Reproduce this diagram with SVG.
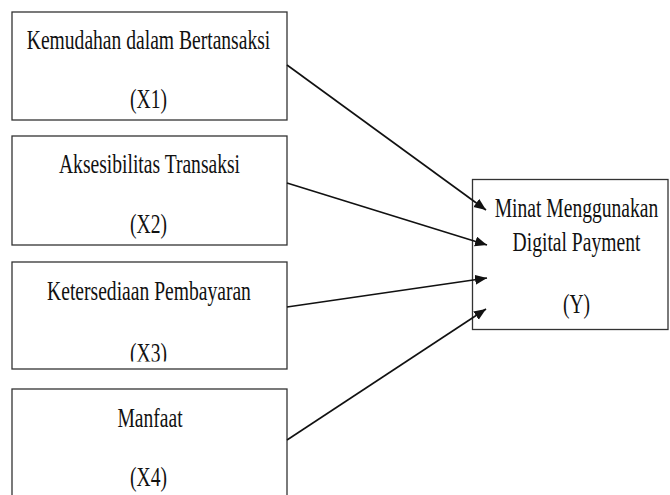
<svg xmlns="http://www.w3.org/2000/svg" width="670" height="495" viewBox="0 0 670 495">
  <style>
    .box { fill: #ffffff; stroke: #333333; stroke-width: 1.3; }
    .lbl { font-family: "Liberation Serif", "Times New Roman", serif; font-size: 27px; fill: #111111; text-anchor: middle; }
    .conn { stroke: #111111; stroke-width: 1.6; fill: none; marker-end: url(#arrow); }
  </style>
  <defs>
    <marker id="arrow" markerUnits="userSpaceOnUse" markerWidth="13" markerHeight="11" refX="12" refY="5" orient="auto">
      <path d="M0,0 L12,5 L0,10 z" fill="#111111"/>
    </marker>
    <clipPath id="clipX3">
      <rect x="0" y="262" width="300" height="99.5"/>
    </clipPath>
  </defs>
  <rect width="670" height="495" fill="#ffffff"/>

  <g id="node-x1">
    <rect class="box" x="12" y="12" width="275" height="108"/>
    <text class="lbl" transform="translate(148.5,48.5) scale(0.725,1)">Kemudahan dalam Bertansaksi</text>
    <text class="lbl" transform="translate(148.5,108) scale(0.725,1)">(X1)</text>
  </g>

  <g id="node-x2">
    <rect class="box" x="12" y="136" width="275" height="109"/>
    <text class="lbl" transform="translate(149.5,173) scale(0.725,1)">Aksesibilitas Transaksi</text>
    <text class="lbl" transform="translate(148.5,233) scale(0.725,1)">(X2)</text>
  </g>

  <g id="node-x3">
    <rect class="box" x="12" y="262" width="275" height="107"/>
    <text class="lbl" transform="translate(149,300) scale(0.725,1)">Ketersediaan Pembayaran</text>
    <g clip-path="url(#clipX3)">
      <text class="lbl" transform="translate(148.5,362) scale(0.725,1)">(X3)</text>
    </g>
  </g>

  <g id="node-x4">
    <rect class="box" x="12" y="389" width="275" height="120"/>
    <text class="lbl" transform="translate(150,426.5) scale(0.725,1)">Manfaat</text>
    <text class="lbl" transform="translate(148.5,486) scale(0.725,1)">(X4)</text>
  </g>

  <g id="node-y">
    <rect class="box" x="472.5" y="179.5" width="195.5" height="150"/>
    <text class="lbl" transform="translate(576.5,217) scale(0.725,1)">Minat Menggunakan</text>
    <text class="lbl" transform="translate(576.5,251) scale(0.725,1)">Digital Payment</text>
    <text class="lbl" transform="translate(576.5,313) scale(0.725,1)">(Y)</text>
  </g>

  <g id="connectors">
    <line class="conn" x1="287" y1="65" x2="486" y2="210"/>
    <line class="conn" x1="287" y1="183" x2="487" y2="245"/>
    <line class="conn" x1="287" y1="307" x2="487" y2="278"/>
    <line class="conn" x1="287" y1="440" x2="486" y2="309"/>
  </g>
</svg>
